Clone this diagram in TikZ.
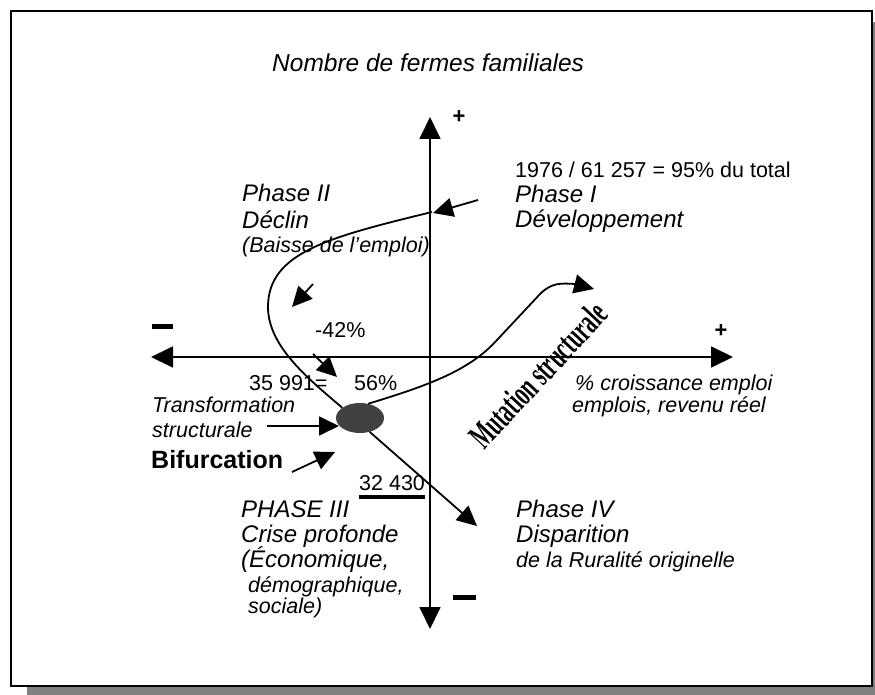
\documentclass[tikz,border=0pt]{standalone}
\usepackage{fontspec}
\setmainfont{Liberation Sans}
\newfontfamily\mutfont{Liberation Serif}
\usetikzlibrary{arrows.meta,shapes.geometric}
\newcommand\fsz{\fontsize{21.5}{25}\selectfont}
\newcommand\fbig{\fontsize{24}{27}\selectfont}
\begin{document}
\begin{tikzpicture}[x=1pt,y=-1pt,
  ln/.style={line width=1.8pt},
  arr/.style={ln,-{Triangle[length=20pt,width=19pt]}},
  lbl/.style={anchor=base west,inner sep=0pt,font=\fsz},
  itl/.style={lbl,font=\fsz\itshape},
  itb/.style={lbl,font=\fbig\itshape},
  bar/.style={fill=black,inner sep=0pt,minimum width=21pt,minimum height=5pt},
  plus/.style={inner sep=0pt,font=\fontsize{22}{24}\selectfont\bfseries}]
\useasboundingbox (0,0) rectangle (875,695);
% frame with shadow
\fill[gray] (27,22) rectangle (883,697);
\draw[line width=2pt,fill=white] (11,11) rectangle (872,686);

% axes
\coordinate (vtop) at (430,117);
\coordinate (vbot) at (430,629);
\coordinate (hleft) at (151,357);
\coordinate (hright) at (733,357);
\draw[ln,{Triangle[length=22pt,width=21pt]}-{Triangle[length=22pt,width=21pt]}] (vbot) -- (vtop);
\draw[ln,{Triangle[length=22pt,width=21pt]}-{Triangle[length=22pt,width=21pt]}] (hleft) -- (hright);

\node[plus] (plusT) at (459,117) {+};
\node[plus] (plusR) at (721,331) {+};
\node[bar] (minusL) at (162.5,326.5) {};
\node[bar,minimum width=23pt] (minusB) at (464.5,597.5) {};

% title
\node[itl,font=\fontsize{24.5}{28}\selectfont\itshape] (title) at (272,72) {Nombre de fermes familiales};

% Phase I
\node[lbl] (tot) at (515,178) {1976 / 61 257 = 95\% du total};
\node[itb] (p1a) at (515,203) {Phase I};
\node[itb] (p1b) at (515,227) {Développement};

% Phase II
\node[itb] (p2a) at (242,202) {Phase II};
\node[itb] (p2b) at (242,228) {Déclin};
\node[itl] (p2c) at (242,252) {(Baisse de l’emploi)};

% middle labels
\node[lbl] (m42) at (315,337) {-42\%};
\node[lbl] (n35) at (249,390) {35 991=};
\node[lbl] (n56) at (354,390) {56\%};
\node[itl] (cr1) at (575,390) {\% croissance emploi};
\node[itl] (cr2) at (572,412) {emplois, revenu réel};
\node[itl] (tr1) at (152,412) {Transformation};
\node[itl] (tr2) at (152,437) {structurale};
\node[lbl,font=\fontsize{25}{28}\selectfont\bfseries] (bif) at (151,468) {Bifurcation};
\node[lbl] (n32) at (359,490) {32 430};
\draw[line width=4pt] ([yshift=-7pt]n32.base west) -- ([yshift=-7pt]n32.base east);

% Phase III
\node[itb] (p3a) at (241,517) {PHASE III};
\node[itb] (p3b) at (241,542) {Crise profonde};
\node[itb] (p3c) at (241,567) {(Économique,};
\node[itl] (p3d) at (248,592) {démographique,};
\node[itl] (p3e) at (248,613) {sociale)};

% Phase IV
\node[itb] (p4a) at (516,517) {Phase IV};
\node[itb] (p4b) at (516,542) {Disparition};
\node[itl] (p4c) at (516,567) {de la Ruralité originelle};

% bifurcation ellipse
\node[ellipse,fill=black!75,minimum width=48pt,minimum height=30pt,inner sep=0pt] (ell) at (360,418) {};

% main curve
\coordinate (c0) at (432,212);
\draw[ln] (c0) .. controls (330,237) and (268,252) .. (268,307)
  .. controls (268,347) and (310,380) .. (ell.150);
% Phase IV arrow
\coordinate (p4tip) at (477,526);
\draw[arr] (ell.-55) -- (p4tip);

% mutation curve
\coordinate (mutend) at (594,289);
\draw[arr] (ell.60) .. controls (430,385) and (470,370) .. (497,340) -- (541,293)
  .. controls (552,283) and (560,283) .. (575,284) -- (mutend);
\node[rotate=47,inner sep=0pt] (mut) at (538,375)
  {\mutfont\bfseries\fontsize{36}{36}\selectfont\scalebox{0.57}[1]{Mutation structurale}};

% small arrows
\coordinate (a1s) at (478,200); \coordinate (a1e) at (433,213);
\draw[arr] (a1s) -- (a1e);
\coordinate (a2s) at (313,284); \coordinate (a2e) at (292,307);
\draw[arr] (a2s) -- (a2e);
\coordinate (a3s) at (313,354); \coordinate (a3e) at (337,377);
\draw[arr] (a3s) -- (a3e);
\coordinate (a4s) at (267,426); \coordinate (a4e) at (339,426);
\draw[arr] (a4s) -- (a4e);
\coordinate (a5s) at (292,472); \coordinate (a5e) at (335,452);
\draw[arr] (a5s) -- (a5e);
\end{tikzpicture}
\end{document}
